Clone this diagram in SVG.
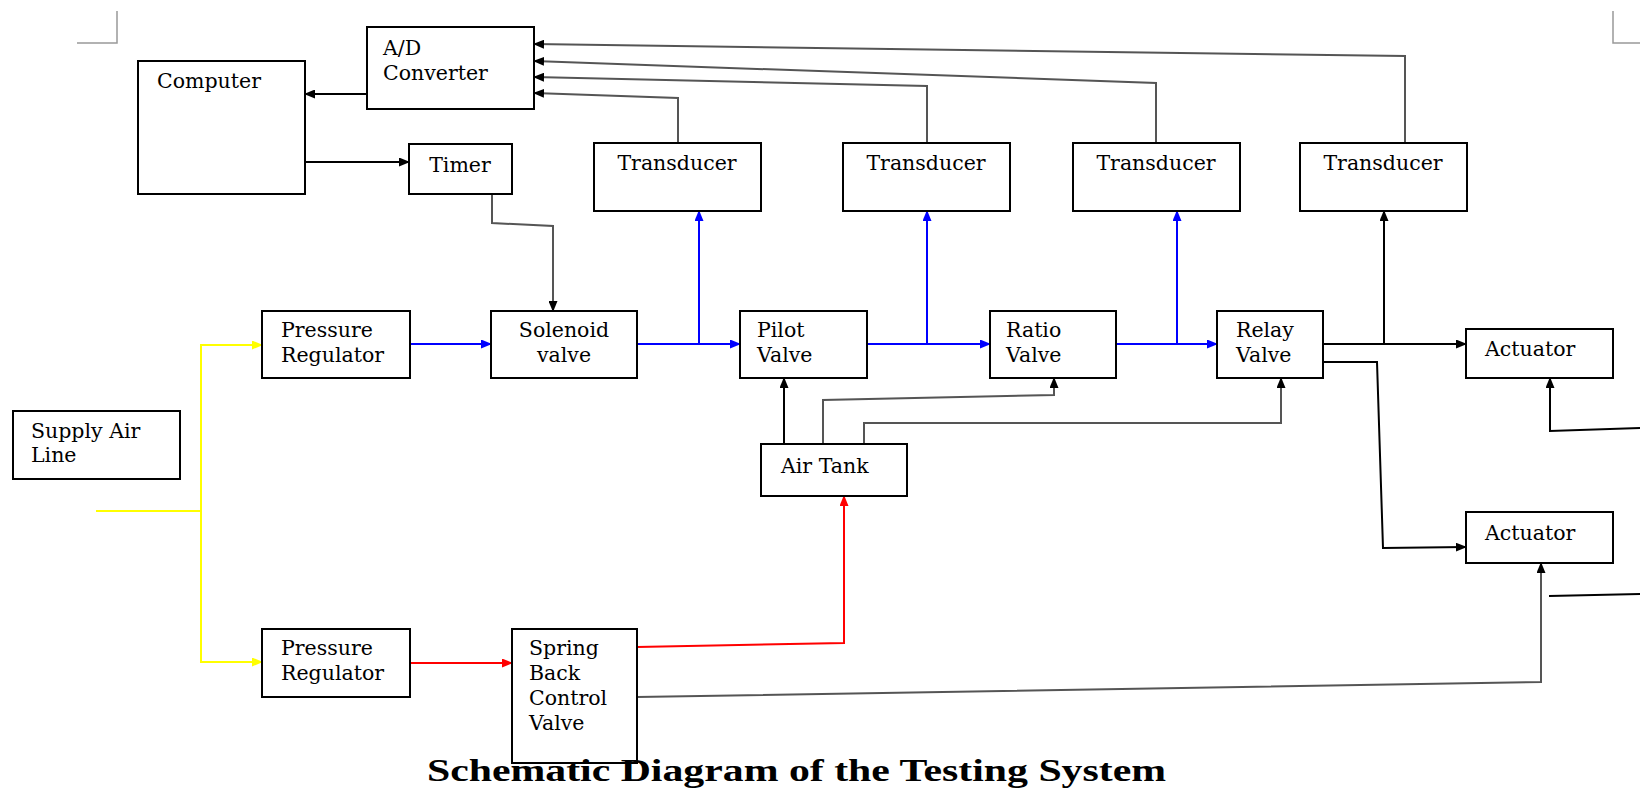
<svg xmlns="http://www.w3.org/2000/svg" width="1640" height="790" viewBox="0 0 1640 790">
<style>
.box{fill:#fff;stroke:#000;stroke-width:2}
.t{font-family:"DejaVu Serif","Liberation Serif",serif;font-size:20.5px;fill:#000}
.c{text-anchor:middle}
.ln{fill:none;stroke-width:2}
.k{stroke:#000}
.g{stroke:#555}
.b{stroke:#0000ff}
.r{stroke:#ff0000}
.y{stroke:#ffff00}
.crop{fill:none;stroke:#999;stroke-width:1.5}
</style>
<defs>
<marker id="ak" markerUnits="userSpaceOnUse" markerWidth="11" markerHeight="9" refX="10" refY="4.5" orient="auto"><path d="M0,0 L11,4.5 L0,9 z" fill="#000"/></marker>
<marker id="ag" markerUnits="userSpaceOnUse" markerWidth="11" markerHeight="9" refX="10" refY="4.5" orient="auto"><path d="M0,0 L11,4.5 L0,9 z" fill="#000"/></marker>
<marker id="ab" markerUnits="userSpaceOnUse" markerWidth="11" markerHeight="9" refX="10" refY="4.5" orient="auto"><path d="M0,0 L11,4.5 L0,9 z" fill="#0000ff"/></marker>
<marker id="ar" markerUnits="userSpaceOnUse" markerWidth="11" markerHeight="9" refX="10" refY="4.5" orient="auto"><path d="M0,0 L11,4.5 L0,9 z" fill="#ff0000"/></marker>
<marker id="ay" markerUnits="userSpaceOnUse" markerWidth="11" markerHeight="9" refX="10" refY="4.5" orient="auto"><path d="M0,0 L11,4.5 L0,9 z" fill="#ffff00"/></marker>
</defs>
<rect width="1640" height="790" fill="#fff"/>
<path class="crop" d="M117,11 V43 H77"/>
<path class="crop" d="M1613,11 V43 H1640"/>

<g id="connectors">
<path class="ln k" d="M367,94 L305,94" marker-end="url(#ak)"/>
<path class="ln k" d="M305,162 L409,162" marker-end="url(#ak)"/>
<path class="ln g" d="M492,194 L492,223 L553,226 L553,311" marker-end="url(#ag)"/>
<path class="ln g" d="M678,143 L678,98 L534,93" marker-end="url(#ag)"/>
<path class="ln g" d="M927,143 L927,86 L534,77" marker-end="url(#ag)"/>
<path class="ln g" d="M1156,143 L1156,83 L534,61" marker-end="url(#ag)"/>
<path class="ln g" d="M1405,143 L1405,56 L534,44" marker-end="url(#ag)"/>
<path class="ln y" d="M96,511 L201,511"/>
<path class="ln y" d="M201,511 L201,345 L262,345" marker-end="url(#ay)"/>
<path class="ln y" d="M201,511 L201,662 L262,662" marker-end="url(#ay)"/>
<path class="ln b" d="M410,344 L491,344" marker-end="url(#ab)"/>
<path class="ln b" d="M637,344 L740,344" marker-end="url(#ab)"/>
<path class="ln b" d="M699,344 L699,211" marker-end="url(#ab)"/>
<path class="ln b" d="M867,344 L990,344" marker-end="url(#ab)"/>
<path class="ln b" d="M927,344 L927,211" marker-end="url(#ab)"/>
<path class="ln b" d="M1116,344 L1217,344" marker-end="url(#ab)"/>
<path class="ln b" d="M1177,344 L1177,211" marker-end="url(#ab)"/>
<path class="ln k" d="M1323,344 L1466,344" marker-end="url(#ak)"/>
<path class="ln k" d="M1384,344 L1384,211" marker-end="url(#ak)"/>
<path class="ln k" d="M1323,362 L1377,362 L1383,548 L1466,547" marker-end="url(#ak)"/>
<path class="ln k" d="M784,444 L784,378" marker-end="url(#ak)"/>
<path class="ln g" d="M823,444 L823,400 L1054,395 L1054,378" marker-end="url(#ag)"/>
<path class="ln g" d="M864,444 L864,423 L1281,423 L1281,378" marker-end="url(#ag)"/>
<path class="ln r" d="M410,663 L512,663" marker-end="url(#ar)"/>
<path class="ln r" d="M637,647 L844,643 L844,496" marker-end="url(#ar)"/>
<path class="ln g" d="M637,697 L1541,682 L1541,563" marker-end="url(#ag)"/>
<path class="ln k" d="M1640,428 L1550,431 L1550,378" marker-end="url(#ak)"/>
<path class="ln k" d="M1640,594 L1549,596"/>
</g>

<g id="computer"><rect class="box" x="138" y="61" width="167" height="133"/><text class="t" x="157" y="88">Computer</text></g>
<g id="ad-converter"><rect class="box" x="367" y="27" width="167" height="82"/><text class="t" x="383" y="55">A/D</text><text class="t" x="383" y="80">Converter</text></g>
<g id="timer"><rect class="box" x="409" y="144" width="103" height="50"/><text class="t c" x="460" y="172">Timer</text></g>
<g id="transducer1"><rect class="box" x="594" y="143" width="167" height="68"/><text class="t c" x="677" y="170">Transducer</text></g>
<g id="transducer2"><rect class="box" x="843" y="143" width="167" height="68"/><text class="t c" x="926" y="170">Transducer</text></g>
<g id="transducer3"><rect class="box" x="1073" y="143" width="167" height="68"/><text class="t c" x="1156" y="170">Transducer</text></g>
<g id="transducer4"><rect class="box" x="1300" y="143" width="167" height="68"/><text class="t c" x="1383" y="170">Transducer</text></g>
<g id="pressure-regulator1"><rect class="box" x="262" y="311" width="148" height="67"/><text class="t" x="281" y="337">Pressure</text><text class="t" x="281" y="362">Regulator</text></g>
<g id="solenoid-valve"><rect class="box" x="491" y="311" width="146" height="67"/><text class="t c" x="564" y="337">Solenoid</text><text class="t c" x="564" y="362">valve</text></g>
<g id="pilot-valve"><rect class="box" x="740" y="311" width="127" height="67"/><text class="t" x="757" y="337">Pilot</text><text class="t" x="757" y="362">Valve</text></g>
<g id="ratio-valve"><rect class="box" x="990" y="311" width="126" height="67"/><text class="t" x="1006" y="337">Ratio</text><text class="t" x="1006" y="362">Valve</text></g>
<g id="relay-valve"><rect class="box" x="1217" y="311" width="106" height="67"/><text class="t" x="1236" y="337">Relay</text><text class="t" x="1236" y="362">Valve</text></g>
<g id="actuator1"><rect class="box" x="1466" y="329" width="147" height="49"/><text class="t" x="1485" y="356">Actuator</text></g>
<g id="actuator2"><rect class="box" x="1466" y="512" width="147" height="51"/><text class="t" x="1485" y="540">Actuator</text></g>
<g id="supply-air-line"><rect class="box" x="13" y="411" width="167" height="68"/><text class="t" x="31" y="438">Supply Air</text><text class="t" x="31" y="462">Line</text></g>
<g id="air-tank"><rect class="box" x="761" y="444" width="146" height="52"/><text class="t" x="781" y="473">Air Tank</text></g>
<g id="pressure-regulator2"><rect class="box" x="262" y="629" width="148" height="68"/><text class="t" x="281" y="655">Pressure</text><text class="t" x="281" y="680">Regulator</text></g>
<g id="spring-back-control-valve"><rect class="box" x="512" y="629" width="125" height="134"/><text class="t" x="529" y="655">Spring</text><text class="t" x="529" y="680">Back</text><text class="t" x="529" y="705">Control</text><text class="t" x="529" y="730">Valve</text></g>

<text x="427" y="781" textLength="739" lengthAdjust="spacingAndGlyphs" style="font-family:'Liberation Serif',serif;font-size:31px;font-weight:bold;fill:#000">Schematic Diagram of the Testing System</text>
</svg>
